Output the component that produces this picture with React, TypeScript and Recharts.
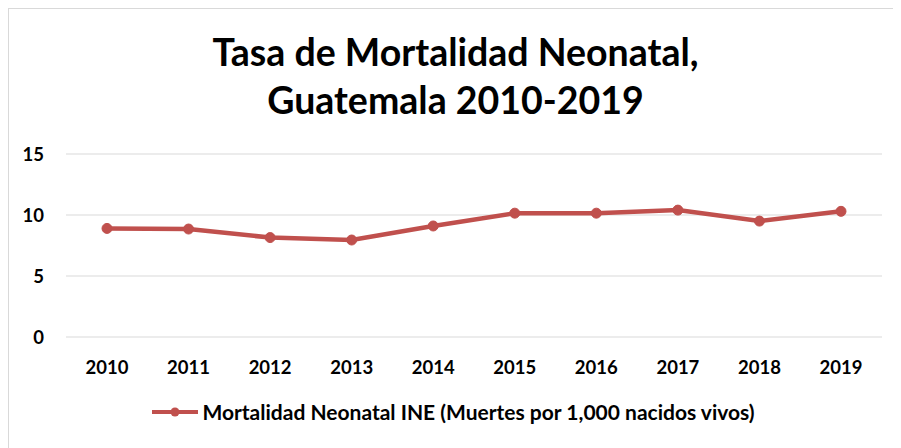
import { LineChart, Line, XAxis, YAxis, CartesianGrid, Legend } from 'recharts';

const YEARS = ['2010', '2011', '2012', '2013', '2014', '2015', '2016', '2017', '2018', '2019'];
const TASA = [8.9, 8.85, 8.15, 7.95, 9.1, 10.15, 10.15, 10.4, 9.5, 10.3];
const Y_TICKS = [0, 5, 10, 15];

const SERIES_NAME = 'Mortalidad Neonatal INE (Muertes por 1,000 nacidos vivos)';
const RED = '#c0504d';
const FONT = 'Lato, "Open Sans", sans-serif';

const data = YEARS.map((year, i) => ({ year, tasa: TASA[i] }));

function LegendBox() {
  return (
    <div style={{ display: 'flex', alignItems: 'center', justifyContent: 'center', fontFamily: FONT, fontWeight: 700, fontSize: 21, color: '#000', paddingLeft: 8 }}>
      <svg width={48} height={12} style={{ marginRight: 3 }}>
        <line x1={1} y1={6} x2={47} y2={6} stroke={RED} strokeWidth={4} />
        <circle cx={24} cy={6} r={4.5} fill={RED} />
      </svg>
      <span>{SERIES_NAME}</span>
    </div>
  );
}

export default function App() {
  return (
    <div style={{ position: 'relative', width: 893, height: 440, borderLeft: '1px solid #d9d9d9', borderTop: '1px solid #d9d9d9', background: '#fff', overflow: 'hidden' }}>
      <div style={{ position: 'absolute', top: 19, left: 0, width: 893, textAlign: 'center', fontFamily: FONT, fontWeight: 700, fontSize: 37.5, lineHeight: '48px', color: '#000' }}>
        Tasa de Mortalidad Neonatal,<br />Guatemala 2010-2019
      </div>
      <LineChart width={893} height={439} data={data} margin={{ top: 145, right: 20, bottom: 0, left: 7 }}>
        <CartesianGrid vertical={false} stroke="#d9d9d9" />
        <XAxis
          dataKey="year"
          axisLine={false}
          tickLine={false}
          tickSize={0}
          tickMargin={24}
          height={86}
          padding={{ left: 41, right: 41 }}
          tick={{ fill: '#000', fontSize: 18.5, fontWeight: 700, fontFamily: FONT }}
        />
        <YAxis
          domain={[0, 15]}
          ticks={Y_TICKS}
          axisLine={false}
          tickLine={false}
          tickSize={0}
          tickMargin={22}
          width={50}
          tick={{ fill: '#000', fontSize: 18.5, fontWeight: 700, fontFamily: FONT }}
        />
        <Legend verticalAlign="bottom" wrapperStyle={{ bottom: 24 }} content={() => <LegendBox />} />
        <Line
          type="linear"
          dataKey="tasa"
          name={SERIES_NAME}
          stroke={RED}
          strokeWidth={4.5}
          dot={{ r: 5, fill: RED, stroke: RED, strokeWidth: 1 }}
          isAnimationActive={false}
        />
      </LineChart>
    </div>
  );
}
